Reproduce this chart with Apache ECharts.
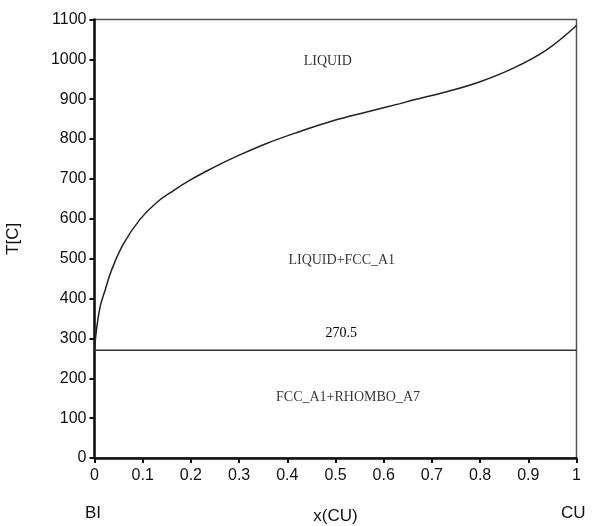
<!DOCTYPE html>
<html>
<head>
	<meta charset="utf-8">
	<script src="https://cdn.jsdelivr.net/npm/echarts@6/dist/echarts.min.js"></script>
</head>
<body style="margin:0;background:#fff;">
	<div id="main" style="width:602px;height:526px;"></div>
</body>
<script type="text/javascript">
// liquidus: x(CU), T[C]
var liqX = [0, 0.004, 0.0114, 0.022, 0.0357, 0.06, 0.094, 0.129, 0.164, 0.198, 0.233, 0.267, 0.288, 0.357, 0.426, 0.495, 0.565, 0.634, 0.661, 0.731, 0.8, 0.869, 0.938, 1];
var liqT = [270.5, 320, 378, 421, 472, 537, 598, 641, 671, 697, 720, 741, 753, 789, 819, 846, 868, 889, 898, 919, 944, 978, 1024, 1085];
var eutecticT = 270.5;
var eutecticLabelX = 0.512;
var regionNames = ['LIQUID', 'LIQUID+FCC_A1', 'FCC_A1+RHOMBO_A7'];
var regionX = [0.484, 0.513, 0.526];
var regionT = [996, 497, 153];

var liquidus = [];
for (var i = 0; i < liqX.length; i++) {
	liquidus.push([liqX[i], liqT[i]]);
}
var labels = [];
for (var i = 0; i < regionNames.length; i++) {
	labels.push({value: [regionX[i], regionT[i]], name: regionNames[i]});
}

var serif = '"Liberation Serif", "Times New Roman", serif';
var sans = '"Liberation Sans", Arial, sans-serif';

var option = {
	animation: false,
	grid: {
		left: 94.5, right: 25.5, top: 19.5, bottom: 68,
		outerBoundsMode: 'none',
		show: true,
		borderColor: '#555',
		borderWidth: 1.5
	},
	xAxis: {
		type: 'value',
		min: 0, max: 1, interval: 0.1,
		name: 'x(CU)',
		nameLocation: 'middle',
		nameGap: 50,
		nameTextStyle: {fontFamily: sans, fontSize: 17, color: '#111'},
		axisLine: {lineStyle: {color: '#111', width: 2.5}},
		axisTick: {length: 5, lineStyle: {color: '#111', width: 2}},
		axisLabel: {fontFamily: sans, fontSize: 16, color: '#111', margin: 10},
		splitLine: {show: false}
	},
	yAxis: {
		type: 'value',
		min: 0, max: 1100, interval: 100,
		name: 'T[C]',
		nameLocation: 'middle',
		nameGap: 73,
		nameRotate: 90,
		nameTextStyle: {fontFamily: sans, fontSize: 17, color: '#111'},
		axisLine: {lineStyle: {color: '#111', width: 2.5}},
		axisTick: {length: 5, lineStyle: {color: '#111', width: 2}},
		axisLabel: {fontFamily: sans, fontSize: 16, color: '#111', margin: 8,
			formatter: function (v) { return String(v); }},
		splitLine: {show: false}
	},
	graphic: [
		{type: 'text', left: 85, top: 505, style: {text: 'BI', font: '17px ' + sans, fill: '#111'}},
		{type: 'text', left: 561, top: 505, style: {text: 'CU', font: '17px ' + sans, fill: '#111'}}
	],
	series: [
		{
			name: 'liquidus',
			type: 'line',
			smooth: 0.4,
			symbol: 'none',
			lineStyle: {color: '#222', width: 1.5},
			data: liquidus
		},
		{
			name: 'eutectic',
			type: 'line',
			symbol: 'none',
			lineStyle: {color: '#333', width: 1.5},
			data: [[0, eutecticT], [1, eutecticT]],
			markPoint: {
				symbol: 'circle',
				symbolSize: 0,
				itemStyle: {color: 'rgba(0,0,0,0)'},
				label: {show: true, position: 'inside', formatter: String(eutecticT), fontFamily: serif, fontSize: 14, color: '#000', offset: [0, -17]},
				data: [{coord: [eutecticLabelX, eutecticT]}]
			}
		},
		{
			name: 'regions',
			type: 'scatter',
			symbolSize: 0,
			label: {
				show: true,
				position: 'inside',
				formatter: '{b}',
				fontFamily: serif,
				fontSize: 14,
				color: '#000'
			},
			data: labels
		}
	]
};
var myChart = echarts.init(document.getElementById('main'));
myChart.setOption(option);
</script>
</html>
